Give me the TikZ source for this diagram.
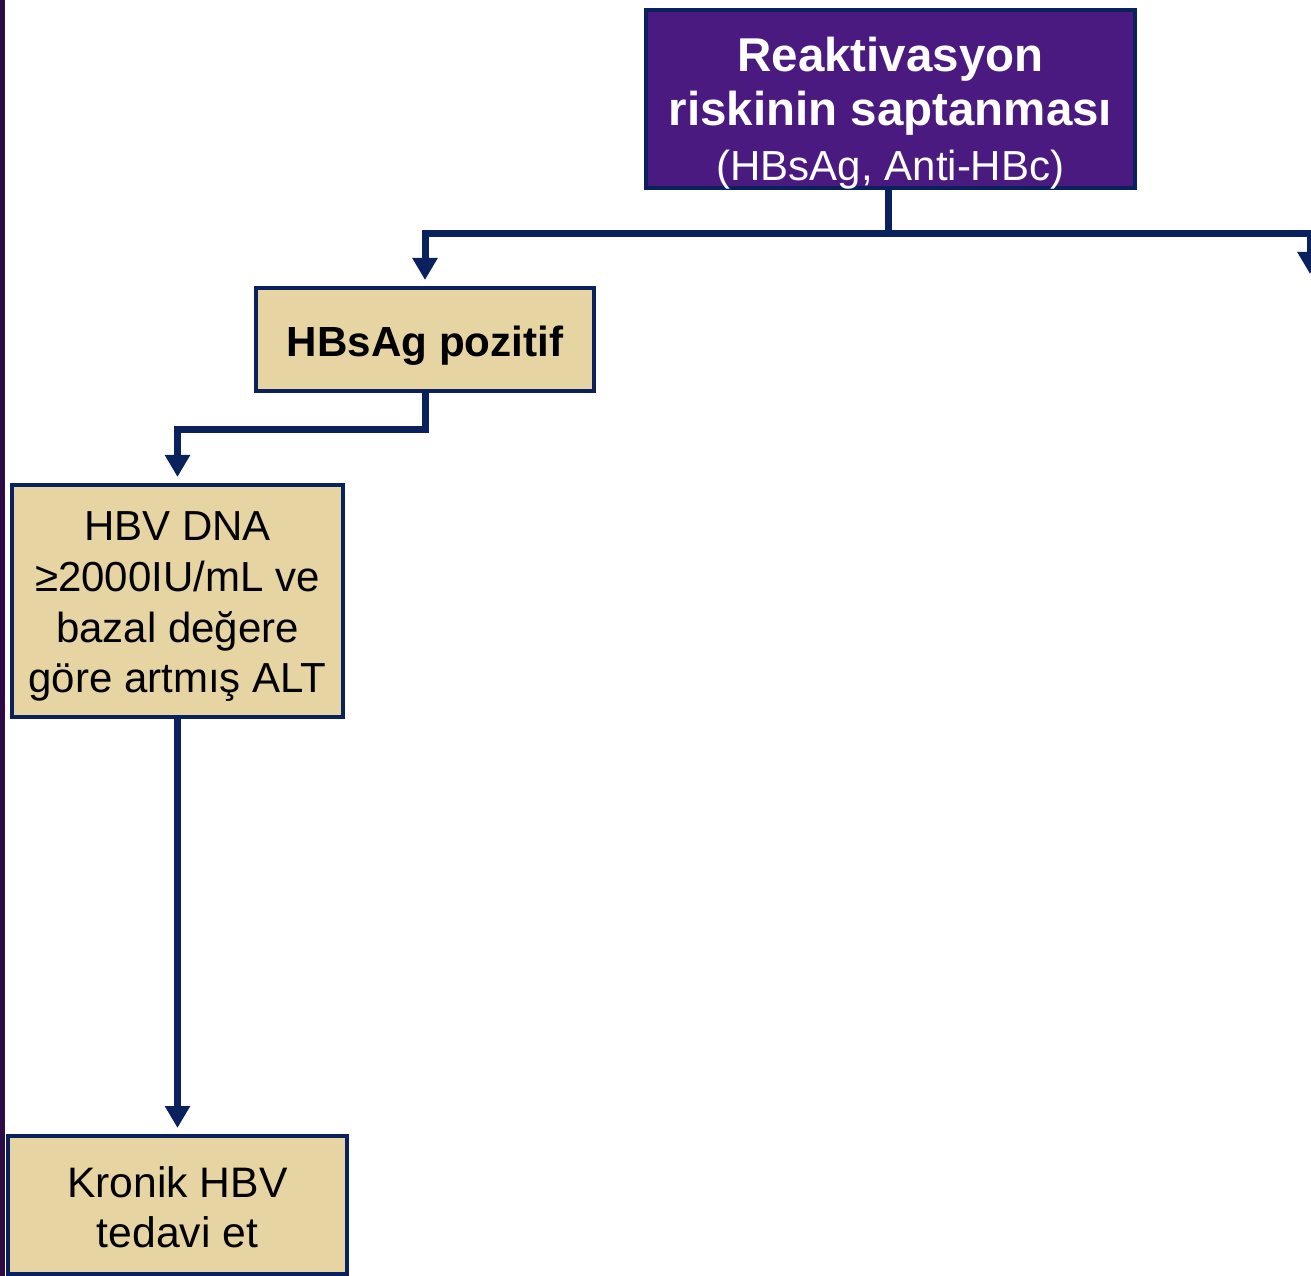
\documentclass[tikz,border=0pt]{standalone}
\usepackage{fontspec}
\setmainfont{Liberation Sans}
\usetikzlibrary{arrows.meta}
\definecolor{navy}{HTML}{0B215E}
\definecolor{plum}{HTML}{4B1A80}
\definecolor{papyrus}{HTML}{E7D4A3}
\definecolor{edgebar}{HTML}{2D0B47}
\newcommand{\pxu}{0.75pt}
\begin{document}
\begin{tikzpicture}[x=\pxu,y=-\pxu,
  box/.style={draw=navy, line width=3pt, rectangle, inner sep=0pt, fill=papyrus},
  boxtext/.style={inner sep=0pt, align=center, text=black},
  link/.style={draw=navy, line width=5.25pt},
  arrow/.style={link, -{Triangle[width=18pt, length=16.5pt]}, shorten >=4.5pt}
]
\useasboundingbox (0,0) rectangle (1311,1276);

% dark band along the left edge
\fill[edgebar] (0,0) rectangle (5,1276);

% boxes
\node[box, fill=plum, minimum width=366.75pt, minimum height=133.5pt]
  (risk) at (890.5,99) {};
\node[boxtext, text=white, font={\fontsize{35.6}{41}\selectfont\bfseries}]
  (risklabel) at ([yshift=-10.5pt]risk.center)
  {Reaktivasyon\\ riskinin saptanması\\
   \mdseries\fontsize{31.5}{40}\selectfont (HBsAg, Anti-HBc)};

\node[box, minimum width=253.5pt, minimum height=77.25pt]
  (hbs) at (425,339.5) {};
\node[boxtext, font={\fontsize{31.6}{38}\selectfont\bfseries}]
  (hbslabel) at ([yshift=-4.5pt]hbs.center) {HBsAg pozitif};

\node[box, minimum width=248.25pt, minimum height=174pt]
  (dna) at (177.5,601) {};
\node[boxtext, font={\fontsize{31.5}{38}\selectfont}]
  (dnalabel) at ([yshift=-4.5pt]dna.center)
  {HBV DNA\\ ≥2000IU/mL ve\\ bazal değere\\ göre artmış ALT};

\node[box, minimum width=254.25pt, minimum height=103.5pt]
  (kron) at (177.5,1205) {};
\node[boxtext, font={\fontsize{32}{37.5}\selectfont}]
  (kronlabel) at ([yshift=-1.5pt]kron.center) {Kronik HBV\\ tedavi et};

% connectors
\coordinate (split) at (888,234);
\coordinate (rightdrop) at (1310,280);
\draw[link] (split |- risk.south) -- (split);
\draw[arrow] (split) -| (hbs.north);
\draw[arrow] (split) -| (rightdrop);
\draw[arrow] (hbs.south) -- ++(0,37) -| (dna.north);
\draw[arrow] (dna.south) -- (kron.north);
\end{tikzpicture}
\end{document}
